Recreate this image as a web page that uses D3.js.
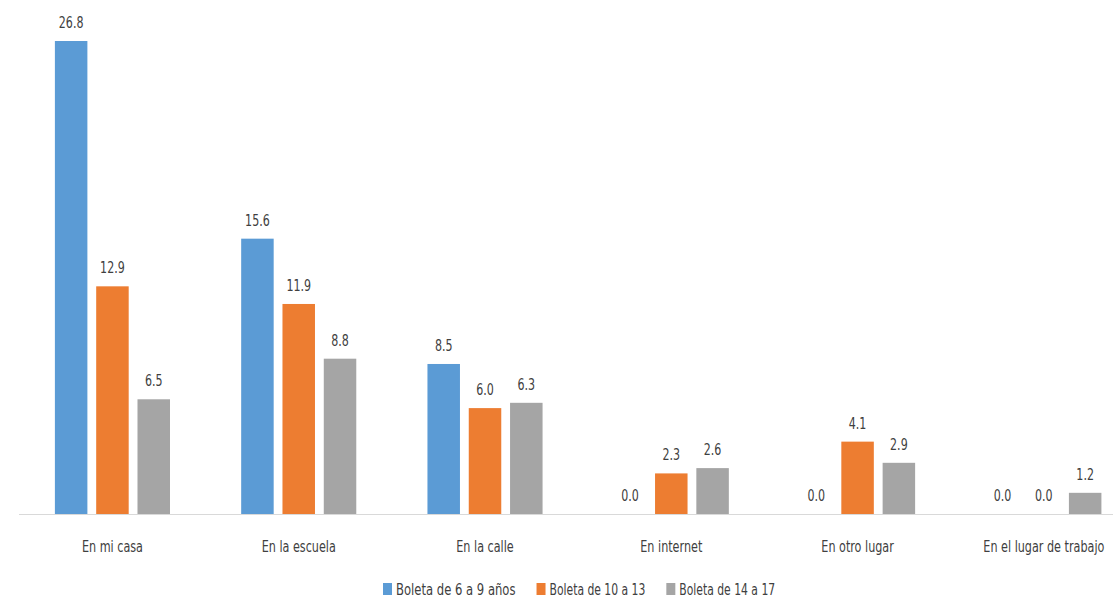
<!DOCTYPE html>
<html>
<head>
<meta charset="utf-8">
<script src="https://cdn.jsdelivr.net/npm/d3@7"></script>
<style>
  body { margin: 0; background: #fff; }
  svg text { font-family: "Liberation Sans Narrow", "DejaVu Sans Condensed", sans-serif; fill: #404040; }
</style>
</head>
<body>
<svg id="chart"></svg>
<script>
// Data
var categories = ["En mi casa", "En la escuela", "En la calle", "En internet", "En otro lugar", "En el lugar de trabajo"];
var seriesNames = ["Boleta de 6 a 9 años", "Boleta de 10 a 13", "Boleta de 14 a 17"];
var serie6a9 = [26.8, 15.6, 8.5, 0.0, 0.0, 0.0];
var serie10a13 = [12.9, 11.9, 6.0, 2.3, 4.1, 0.0];
var serie14a17 = [6.5, 8.8, 6.3, 2.6, 2.9, 1.2];
var colors = ["#5b9bd5", "#ed7d31", "#a5a5a5"];

var allSeries = [serie6a9, serie10a13, serie14a17];

var width = 1113, height = 600;
var baseline = 514;

var svg = d3.select("#chart").attr("width", width).attr("height", height);

// squeeze text horizontally (the original font is narrower)
function squeeze(sel, k) {
  sel.each(function() {
    var len = this.getComputedTextLength();
    d3.select(this).attr("textLength", len * k).attr("lengthAdjust", "spacingAndGlyphs");
  });
}

// Scales
var x0 = d3.scaleBand().domain(categories).range([19.3, 1137]).paddingInner(0).paddingOuter(0);
var yScale = d3.scaleLinear().domain([0, 26.8]).range([baseline, 41]);
var barW = 32.5, step = 41.3;

// Axis line
svg.append("line")
  .attr("x1", 19).attr("x2", width)
  .attr("y1", baseline + 0.5).attr("y2", baseline + 0.5)
  .attr("stroke", "#d9d9d9").attr("stroke-width", 1);

// Bars + labels
allSeries.forEach(function(vals, s) {
  var g = svg.append("g").attr("class", "series");
  var rows = categories.map(function(c, i) { return { cat: c, value: vals[i] }; });
  g.selectAll("rect").data(rows).enter().append("rect")
    .attr("x", function(d) { return x0(d.cat) + x0.bandwidth() / 2 + (s - 1) * step - barW / 2; })
    .attr("y", function(d) { return yScale(d.value); })
    .attr("width", barW)
    .attr("height", function(d) { return baseline - yScale(d.value); })
    .attr("fill", colors[s]);
  g.selectAll("text").data(rows).enter().append("text")
    .attr("x", function(d) { return x0(d.cat) + x0.bandwidth() / 2 + (s - 1) * step; })
    .attr("y", function(d) { return yScale(d.value) - 13; })
    .attr("text-anchor", "middle")
    .style("font-size", "15px")
    .text(function(d) { return d.value.toFixed(1); })
    .call(squeeze, 0.82);
});

// Category labels
svg.selectAll(".cat").data(categories).enter().append("text")
  .attr("class", "cat")
  .attr("x", function(d) { return x0(d) + x0.bandwidth() / 2; })
  .attr("y", 552)
  .attr("text-anchor", "middle")
  .style("font-size", "15px")
  .text(function(d) { return d; })
  .call(squeeze, 0.83);

// Legend
var legend = svg.append("g").attr("class", "legend");
var lx = 383;
seriesNames.forEach(function(name, i) {
  legend.append("rect")
    .attr("x", lx).attr("y", 583).attr("width", 9).attr("height", 12)
    .attr("fill", colors[i]);
  var t = legend.append("text")
    .attr("x", lx + 13).attr("y", 595)
    .style("font-size", "15px")
    .text(name)
    .call(squeeze, i === 0 ? 0.86 : 0.8);
  lx = lx + 13 + +t.attr("textLength") + 21;
});
</script>
</body>
</html>
